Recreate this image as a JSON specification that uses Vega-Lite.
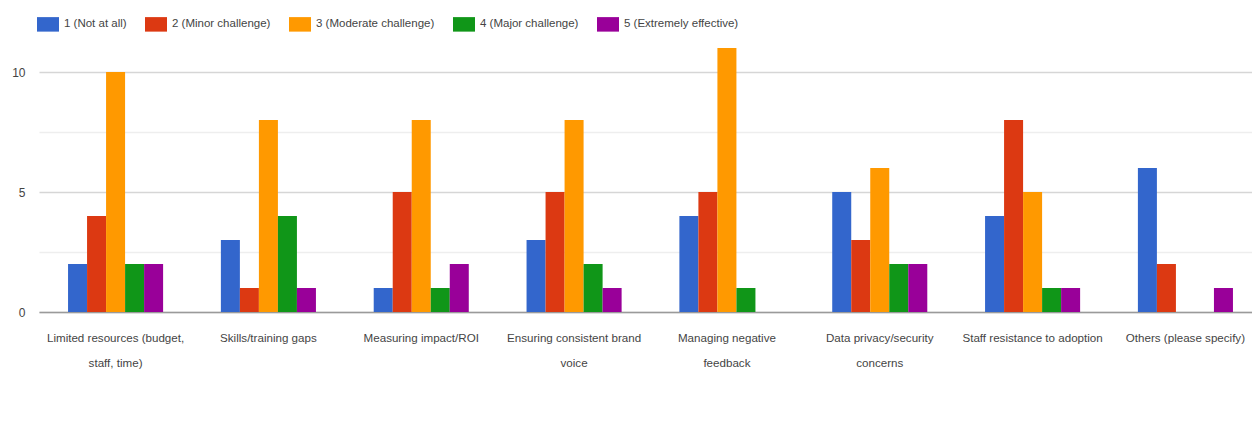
{
  "$schema": "https://vega.github.io/schema/vega-lite/v6.json",
  "autosize": {"type": "none"},
  "width": 1213,
  "height": 264,
  "padding": {"left": 39, "top": 48, "right": 0, "bottom": 118},
  "background": "white",
  "data": {
    "values": [
      {"category": "Limited resources (budget, staff, time)", "rating": "1 (Not at all)", "count": 2},
      {"category": "Limited resources (budget, staff, time)", "rating": "2 (Minor challenge)", "count": 4},
      {"category": "Limited resources (budget, staff, time)", "rating": "3 (Moderate challenge)", "count": 10},
      {"category": "Limited resources (budget, staff, time)", "rating": "4 (Major challenge)", "count": 2},
      {"category": "Limited resources (budget, staff, time)", "rating": "5 (Extremely effective)", "count": 2},
      {"category": "Skills/training gaps", "rating": "1 (Not at all)", "count": 3},
      {"category": "Skills/training gaps", "rating": "2 (Minor challenge)", "count": 1},
      {"category": "Skills/training gaps", "rating": "3 (Moderate challenge)", "count": 8},
      {"category": "Skills/training gaps", "rating": "4 (Major challenge)", "count": 4},
      {"category": "Skills/training gaps", "rating": "5 (Extremely effective)", "count": 1},
      {"category": "Measuring impact/ROI", "rating": "1 (Not at all)", "count": 1},
      {"category": "Measuring impact/ROI", "rating": "2 (Minor challenge)", "count": 5},
      {"category": "Measuring impact/ROI", "rating": "3 (Moderate challenge)", "count": 8},
      {"category": "Measuring impact/ROI", "rating": "4 (Major challenge)", "count": 1},
      {"category": "Measuring impact/ROI", "rating": "5 (Extremely effective)", "count": 2},
      {"category": "Ensuring consistent brand voice", "rating": "1 (Not at all)", "count": 3},
      {"category": "Ensuring consistent brand voice", "rating": "2 (Minor challenge)", "count": 5},
      {"category": "Ensuring consistent brand voice", "rating": "3 (Moderate challenge)", "count": 8},
      {"category": "Ensuring consistent brand voice", "rating": "4 (Major challenge)", "count": 2},
      {"category": "Ensuring consistent brand voice", "rating": "5 (Extremely effective)", "count": 1},
      {"category": "Managing negative feedback", "rating": "1 (Not at all)", "count": 4},
      {"category": "Managing negative feedback", "rating": "2 (Minor challenge)", "count": 5},
      {"category": "Managing negative feedback", "rating": "3 (Moderate challenge)", "count": 11},
      {"category": "Managing negative feedback", "rating": "4 (Major challenge)", "count": 1},
      {"category": "Managing negative feedback", "rating": "5 (Extremely effective)", "count": 0},
      {"category": "Data privacy/security concerns", "rating": "1 (Not at all)", "count": 5},
      {"category": "Data privacy/security concerns", "rating": "2 (Minor challenge)", "count": 3},
      {"category": "Data privacy/security concerns", "rating": "3 (Moderate challenge)", "count": 6},
      {"category": "Data privacy/security concerns", "rating": "4 (Major challenge)", "count": 2},
      {"category": "Data privacy/security concerns", "rating": "5 (Extremely effective)", "count": 2},
      {"category": "Staff resistance to adoption", "rating": "1 (Not at all)", "count": 4},
      {"category": "Staff resistance to adoption", "rating": "2 (Minor challenge)", "count": 8},
      {"category": "Staff resistance to adoption", "rating": "3 (Moderate challenge)", "count": 5},
      {"category": "Staff resistance to adoption", "rating": "4 (Major challenge)", "count": 1},
      {"category": "Staff resistance to adoption", "rating": "5 (Extremely effective)", "count": 1},
      {"category": "Others (please specify)", "rating": "1 (Not at all)", "count": 6},
      {"category": "Others (please specify)", "rating": "2 (Minor challenge)", "count": 2},
      {"category": "Others (please specify)", "rating": "3 (Moderate challenge)", "count": 0},
      {"category": "Others (please specify)", "rating": "4 (Major challenge)", "count": 0},
      {"category": "Others (please specify)", "rating": "5 (Extremely effective)", "count": 1}
    ]
  },
  "config": {
    "view": {"stroke": null},
    "font": "Liberation Sans, Arial, sans-serif"
  },
  "mark": {"type": "bar"},
  "encoding": {
    "x": {
      "field": "category",
      "type": "nominal",
      "sort": null,
      "scale": {"range": [0, 1223], "paddingInner": 0.378, "paddingOuter": 0.19},
      "axis": {
        "title": null,
        "labelAngle": 0,
        "ticks": false,
        "domainColor": "#9a9a9a",
        "domainWidth": 1.5,
        "labelColor": "#444444",
        "labelFontSize": 11.6,
        "labelPadding": 26,
        "labelLineHeight": 25,
        "labelBaseline": "middle",
        "labelLimit": 220,
        "labelExpr": "datum.value == 'Limited resources (budget, staff, time)' ? ['Limited resources (budget,', 'staff, time)'] : datum.value == 'Ensuring consistent brand voice' ? ['Ensuring consistent brand', 'voice'] : datum.value == 'Managing negative feedback' ? ['Managing negative', 'feedback'] : datum.value == 'Data privacy/security concerns' ? ['Data privacy/security', 'concerns'] : datum.value"
      }
    },
    "xOffset": {"field": "rating", "type": "nominal", "scale": {"paddingInner": 0, "paddingOuter": 0}},
    "y": {
      "field": "count",
      "type": "quantitative",
      "scale": {"domain": [0, 11], "nice": false},
      "axis": {
        "title": null,
        "domain": false,
        "ticks": false,
        "values": [0, 2.5, 5, 7.5, 10],
        "labelExpr": "datum.value % 5 == 0 ? datum.label : ''",
        "labelColor": "#444444",
        "labelFontSize": 12,
        "labelPadding": 14,
        "gridColor": {"condition": {"test": "datum.value % 5 == 0", "value": "#d6d6d6"}, "value": "#eeeeee"},
        "gridWidth": 1.5
      }
    },
    "color": {
      "field": "rating",
      "type": "nominal",
      "scale": {
        "domain": ["1 (Not at all)", "2 (Minor challenge)", "3 (Moderate challenge)", "4 (Major challenge)", "5 (Extremely effective)"],
        "range": ["#3366cc", "#dc3912", "#ff9900", "#109618", "#990099"]
      },
      "legend": {
        "title": null,
        "orient": "none",
        "direction": "horizontal",
        "legendX": -2,
        "legendY": -35,
        "symbolType": "M-1,-0.66H1V0.66H-1Z",
        "symbolSize": 484,
        "symbolStrokeWidth": 0,
        "symbolOpacity": 1,
        "labelFontSize": 11.5,
        "labelColor": "#444444",
        "columnPadding": 18,
        "labelOffset": 5
      }
    }
  }
}
